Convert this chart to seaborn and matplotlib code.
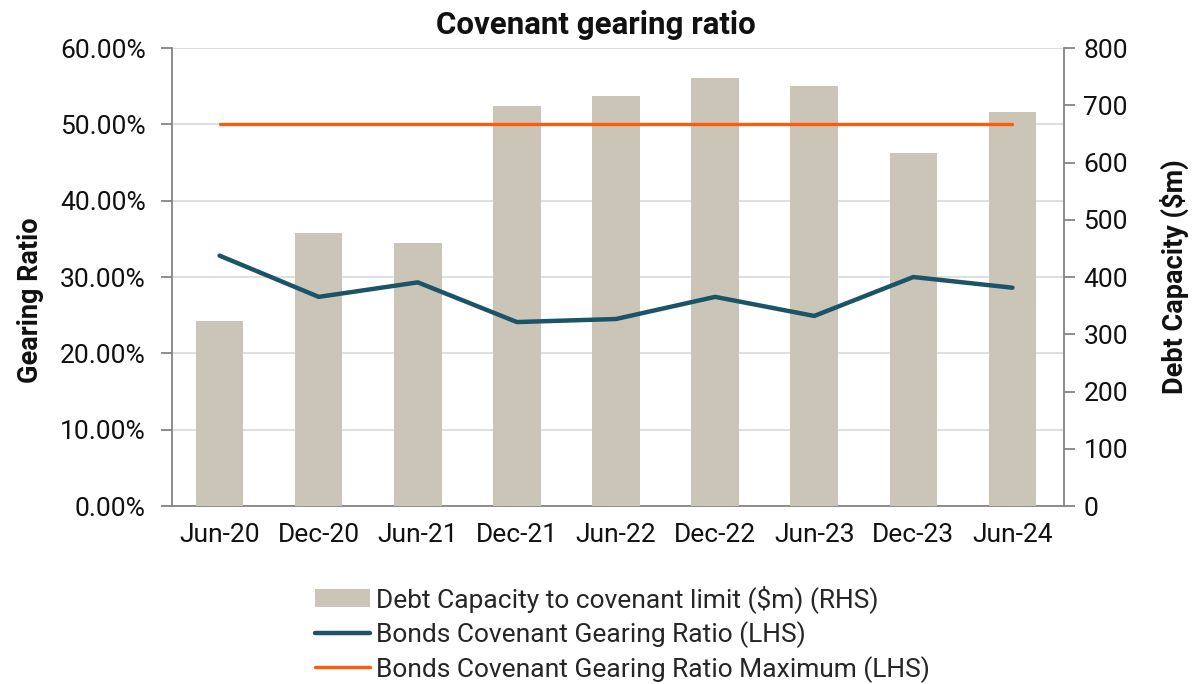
import matplotlib
matplotlib.use("Agg")
import matplotlib.pyplot as plt
import seaborn as sns
import pandas as pd
import numpy as np
from matplotlib.patches import Patch
from matplotlib.lines import Line2D
from matplotlib.ticker import FuncFormatter, MultipleLocator

categories = ["Jun-20", "Dec-20", "Jun-21", "Dec-21", "Jun-22", "Dec-22", "Jun-23", "Dec-23", "Jun-24"]
debt_capacity = [323, 477, 459, 699, 716, 748, 734, 617, 689]
gearing_ratio = [32.8, 27.4, 29.3, 24.1, 24.5, 27.4, 24.9, 30.0, 28.6]
gearing_max = [50, 50, 50, 50, 50, 50, 50, 50, 50]

bar_label = "Debt Capacity to covenant limit ($m) (RHS)"
line_label = "Bonds Covenant Gearing Ratio (LHS)"
max_label = "Bonds Covenant Gearing Ratio Maximum (LHS)"

BAR_C = "#CBC5B8"
LINE_C = "#1B5469"
MAX_C = "#FF5A0A"
GRID_C = "#D9D9D9"
SPINE_C = "#808080"

sns.set_theme(style="white")
plt.rcParams["font.family"] = ["Roboto", "DejaVu Sans"]

df = pd.DataFrame({"cat": categories, "debt": debt_capacity,
                   "ratio": gearing_ratio, "max": gearing_max})

fig = plt.figure(figsize=(11.92, 6.84), dpi=100)
ax = fig.add_axes([0.1443, 0.2602, 0.7483, 0.6696])
ax2 = ax.twinx()
ax3 = ax.twinx()

# bars (right axis)
sns.barplot(data=df, x="cat", y="debt", ax=ax2, color=BAR_C, width=0.48,
            saturation=1, edgecolor="none")
# lines (left scale)
xpos = np.arange(len(categories))
sns.lineplot(x=xpos, y=df["ratio"].values, ax=ax3, color=LINE_C, linewidth=3.2)
sns.lineplot(x=xpos, y=df["max"].values, ax=ax3, color=MAX_C, linewidth=2.4)

ax.set_zorder(0)
ax2.set_zorder(1)
ax3.set_zorder(2)
ax2.patch.set_visible(False)
ax3.patch.set_visible(False)

for a in (ax, ax2, ax3):
    a.set_xlim(-0.48, 8.52)

ax.set_ylim(0, 60)
ax3.set_ylim(0, 60)
ax2.set_ylim(0, 800)

ax.yaxis.set_major_locator(MultipleLocator(10))
ax.yaxis.set_major_formatter(FuncFormatter(lambda v, p: f"{v:.2f}%"))
ax2.yaxis.set_major_locator(MultipleLocator(100))
ax.grid(axis="y", color=GRID_C, linewidth=1.2)
ax.grid(axis="x", visible=False)
ax2.grid(False)
ax3.grid(False)

ax3.axis("off")

ax.set_xticks(xpos)
ax.set_xticklabels(categories)
ax2.set_xlabel("")
ax2.set_ylabel("")

for a in (ax, ax2):
    for s in a.spines.values():
        s.set_visible(False)
ax.spines["left"].set_visible(True)
ax.spines["left"].set_color(SPINE_C)
ax.spines["bottom"].set_visible(True)
ax.spines["bottom"].set_color(SPINE_C)
ax2.spines["right"].set_visible(True)
ax2.spines["right"].set_color(SPINE_C)

ax.tick_params(axis="y", which="major", length=8, color=SPINE_C, labelsize=19, pad=11, left=True,
               labelcolor="#111111")
ax.tick_params(axis="x", length=0, labelsize=19, pad=12, labelcolor="#111111")
ax2.tick_params(axis="y", which="major", length=8, color=SPINE_C, labelsize=19, pad=6, right=True,
                labelcolor="#111111")
ax2.tick_params(axis="x", length=0, labelbottom=False)

ax.set_ylabel("Gearing Ratio", fontsize=19.5, fontweight="bold", color="#111111")
ax.yaxis.set_label_coords(-0.143, 0.45)
ax2.set_ylabel("Debt Capacity ($m)", fontsize=19.5, fontweight="bold", color="#111111")
ax2.yaxis.set_label_coords(1.108, 0.50)
ax.set_xlabel("")
fig.text(0.5, 0.985, "Covenant gearing ratio", fontsize=22.5, fontweight="bold",
         ha="center", va="top", color="#111111")

handles = [Patch(facecolor=BAR_C, edgecolor="none"),
           Line2D([0], [0], color=LINE_C, linewidth=3.2),
           Line2D([0], [0], color=MAX_C, linewidth=2.4)]
fig.legend(handles, [bar_label, line_label, max_label], loc="upper center",
           bbox_to_anchor=(0.522, 0.16), frameon=False, fontsize=19,
           handlelength=2.1, handleheight=0.7, handletextpad=0.2, labelspacing=0.3,
           borderaxespad=0)

fig.savefig("out.png", dpi=100)
